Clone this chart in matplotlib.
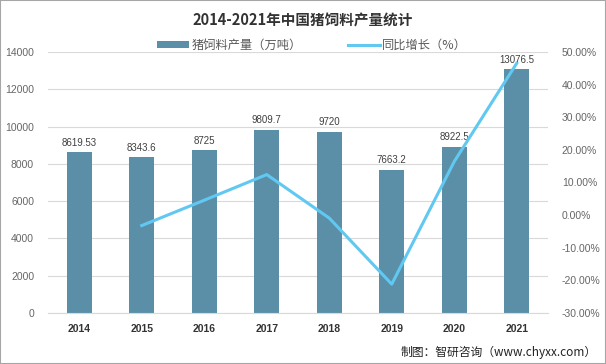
import matplotlib.pyplot as plt
from matplotlib.patches import Rectangle

plt.rcParams['font.family'] = ['Noto Sans CJK SC', 'DejaVu Sans']

# 数据
years = ['2014', '2015', '2016', '2017', '2018', '2019', '2020', '2021']
output = [8619.53, 8343.6, 8725, 9809.7, 9720, 7663.2, 8922.5, 13076.5]
output_labels = ['8619.53', '8343.6', '8725', '9809.7', '9720', '7663.2', '8922.5', '13076.5']
growth_years = ['2015', '2016', '2017', '2018', '2019', '2020', '2021']
growth = [-3.20, 4.57, 12.43, -0.91, -21.16, 16.43, 46.56]

bar_color = '#5B8FA8'
line_color = '#61C8F2'
tick_color = '#666666'

fig = plt.figure(figsize=(6.06, 3.64), dpi=100)
ax = fig.add_axes([48 / 606, 51 / 364, 500 / 606, 261 / 364])

x = list(range(len(years)))
ax.bar(x, output, width=0.4, color=bar_color, zorder=2, label='猪饲料产量（万吨）')
for xi, v, s in zip(x, output, output_labels):
    ax.text(xi, v + 250, s, ha='center', va='bottom', fontsize=7, color='#404040',
            family=['Liberation Sans', 'DejaVu Sans'])

ax.set_ylim(0, 14000)
ax.set_yticks(range(0, 14001, 2000))
ax.set_xlim(-0.5, len(years) - 0.5)
ax.set_xticks(x)
ax.set_xticklabels(years, fontsize=7.5, fontweight='bold', color='#333333',
                   family=['Liberation Sans', 'DejaVu Sans'])
ax.grid(axis='y', color='#D9D9D9', linewidth=0.8, zorder=0)
for sp in ax.spines.values():
    sp.set_visible(False)
ax.spines['bottom'].set_visible(True)
ax.spines['bottom'].set_color('#D9D9D9')
ax.tick_params(axis='x', length=0, pad=8)
ax.tick_params(axis='y', length=0, pad=10, labelsize=7.5, labelcolor=tick_color)
for lab in ax.get_yticklabels():
    lab.set_family(['Liberation Sans', 'DejaVu Sans'])

ax2 = ax.twinx()
gx = [years.index(y) for y in growth_years]
ax2.plot(gx, growth, color=line_color, linewidth=2.2, zorder=3, label='同比增长（%）')
ax2.set_ylim(-30, 50)
ax2.set_yticks(range(-30, 51, 10))
ax2.set_yticklabels([f'{t:.2f}%' for t in range(-30, 51, 10)], family=['Liberation Sans', 'DejaVu Sans'])
for sp in ax2.spines.values():
    sp.set_visible(False)
ax2.tick_params(axis='y', length=0, pad=10, labelsize=7.5, labelcolor=tick_color)

fig.text(0.5, 0.945, '2014-2021年中国猪饲料产量统计', ha='center', va='center',
         fontsize=10.5, fontweight='bold', color='#333333')

h1, l1 = ax.get_legend_handles_labels()
h2, l2 = ax2.get_legend_handles_labels()
fig.legend(h1 + h2, l1 + l2, loc='center', bbox_to_anchor=(0.515, 0.876), ncol=2, frameon=False,
           fontsize=8.8, labelcolor='#595959', handlelength=2.6, handleheight=0.5,
           columnspacing=3.8, handletextpad=0.2)

fig.text(0.985, 0.033, '制图：智研咨询（www.chyxx.com）', ha='right', va='center',
         fontsize=8.5, color='#222222')

fig.patches.append(Rectangle((0, 0), 1, 1, transform=fig.transFigure, fill=False,
                             edgecolor='#A6A6A6', linewidth=1.5))

fig.savefig('out.png', dpi=100)
